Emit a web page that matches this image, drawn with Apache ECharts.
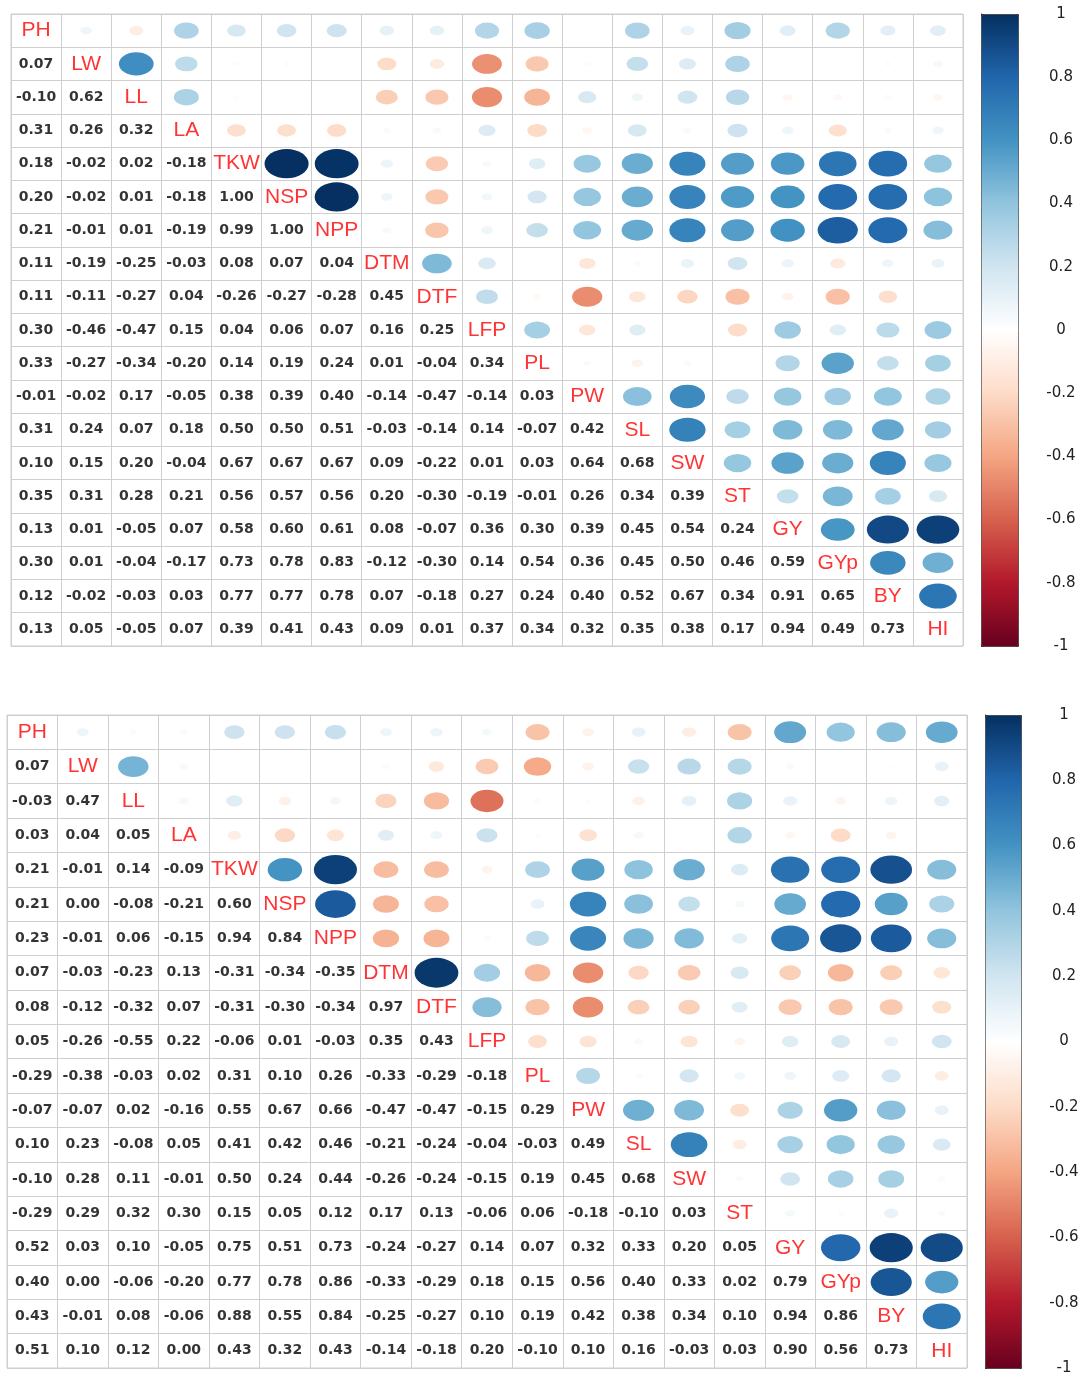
<!DOCTYPE html>
<html lang="en">
<head>
<meta charset="UTF-8">
<title>corrplot</title>
<script src="https://cdn.jsdelivr.net/npm/echarts@6/dist/echarts.min.js"></script>
<style>
  body{margin:0;background:#fff}
  #main{width:1083px;height:1376px}
</style>
</head>
<body>
<div id="main"></div>
<script>
var vars = ['PH','LW','LL','LA','TKW','NSP','NPP','DTM','DTF','LFP','PL','PW','SL','SW','ST','GY','GYp','BY','HI'];

// lower triangle of the first matrix, row by row (columns left of the diagonal)
var lower1 = [
  [],
  [0.07],
  [-0.10, 0.62],
  [0.31, 0.26, 0.32],
  [0.18, -0.02, 0.02, -0.18],
  [0.20, -0.02, 0.01, -0.18, 1.00],
  [0.21, -0.01, 0.01, -0.19, 0.99, 1.00],
  [0.11, -0.19, -0.25, -0.03, 0.08, 0.07, 0.04],
  [0.11, -0.11, -0.27, 0.04, -0.26, -0.27, -0.28, 0.45],
  [0.30, -0.46, -0.47, 0.15, 0.04, 0.06, 0.07, 0.16, 0.25],
  [0.33, -0.27, -0.34, -0.20, 0.14, 0.19, 0.24, 0.01, -0.04, 0.34],
  [-0.01, -0.02, 0.17, -0.05, 0.38, 0.39, 0.40, -0.14, -0.47, -0.14, 0.03],
  [0.31, 0.24, 0.07, 0.18, 0.50, 0.50, 0.51, -0.03, -0.14, 0.14, -0.07, 0.42],
  [0.10, 0.15, 0.20, -0.04, 0.67, 0.67, 0.67, 0.09, -0.22, 0.01, 0.03, 0.64, 0.68],
  [0.35, 0.31, 0.28, 0.21, 0.56, 0.57, 0.56, 0.20, -0.30, -0.19, -0.01, 0.26, 0.34, 0.39],
  [0.13, 0.01, -0.05, 0.07, 0.58, 0.60, 0.61, 0.08, -0.07, 0.36, 0.30, 0.39, 0.45, 0.54, 0.24],
  [0.30, 0.01, -0.04, -0.17, 0.73, 0.78, 0.83, -0.12, -0.30, 0.14, 0.54, 0.36, 0.45, 0.50, 0.46, 0.59],
  [0.12, -0.02, -0.03, 0.03, 0.77, 0.77, 0.78, 0.07, -0.18, 0.27, 0.24, 0.40, 0.52, 0.67, 0.34, 0.91, 0.65],
  [0.13, 0.05, -0.05, 0.07, 0.39, 0.41, 0.43, 0.09, 0.01, 0.37, 0.34, 0.32, 0.35, 0.38, 0.17, 0.94, 0.49, 0.73]
];

// lower triangle of the second matrix
var lower2 = [
  [],
  [0.07],
  [-0.03, 0.47],
  [0.03, 0.04, 0.05],
  [0.21, -0.01, 0.14, -0.09],
  [0.21, 0.00, -0.08, -0.21, 0.60],
  [0.23, -0.01, 0.06, -0.15, 0.94, 0.84],
  [0.07, -0.03, -0.23, 0.13, -0.31, -0.34, -0.35],
  [0.08, -0.12, -0.32, 0.07, -0.31, -0.30, -0.34, 0.97],
  [0.05, -0.26, -0.55, 0.22, -0.06, 0.01, -0.03, 0.35, 0.43],
  [-0.29, -0.38, -0.03, 0.02, 0.31, 0.10, 0.26, -0.33, -0.29, -0.18],
  [-0.07, -0.07, 0.02, -0.16, 0.55, 0.67, 0.66, -0.47, -0.47, -0.15, 0.29],
  [0.10, 0.23, -0.08, 0.05, 0.41, 0.42, 0.46, -0.21, -0.24, -0.04, -0.03, 0.49],
  [-0.10, 0.28, 0.11, -0.01, 0.50, 0.24, 0.44, -0.26, -0.24, -0.15, 0.19, 0.45, 0.68],
  [-0.29, 0.29, 0.32, 0.30, 0.15, 0.05, 0.12, 0.17, 0.13, -0.06, 0.06, -0.18, -0.10, 0.03],
  [0.52, 0.03, 0.10, -0.05, 0.75, 0.51, 0.73, -0.24, -0.27, 0.14, 0.07, 0.32, 0.33, 0.20, 0.05],
  [0.40, 0.00, -0.06, -0.20, 0.77, 0.78, 0.86, -0.33, -0.29, 0.18, 0.15, 0.56, 0.40, 0.33, 0.02, 0.79],
  [0.43, -0.01, 0.08, -0.06, 0.88, 0.55, 0.84, -0.25, -0.27, 0.10, 0.19, 0.42, 0.38, 0.34, 0.10, 0.94, 0.86],
  [0.51, 0.10, 0.12, 0.00, 0.43, 0.32, 0.43, -0.14, -0.18, 0.20, -0.10, 0.10, 0.16, -0.03, 0.03, 0.90, 0.56, 0.73]
];

// colour bar scale
var barMin = -1, barMax = 1, barStep = 0.2;
var rdbu = ['#67001F','#B2182B','#D6604D','#F4A582','#FDDBC7','#FFFFFF','#D1E5F0','#92C5DE','#4393C3','#2166AC','#053061'];

var mychart = echarts.init(document.getElementById('main'));

// split a lower triangle into circles (mirrored up), numbers and the diagonal names
function cells(lower) {
  var circ = [], nums = [], diag = [];
  for (var i = 0; i < vars.length; i++) {
    diag.push([i, i, vars[i]]);
    for (var j = 0; j < i; j++) {
      nums.push([j, i, lower[i][j]]);
      circ.push([i, j, lower[i][j]]);
    }
  }
  return {circ: circ, nums: nums, diag: diag};
}

var boxes = [
  {left: 11, top: 14, width: 952, height: 632, bar: {left: 981, width: 37, margin: 43}},
  {left: 7, top: 715, width: 960, height: 653, bar: {left: 985, width: 36, margin: 43}}
];

var grid = [], xAxis = [], yAxis = [], series = [], visualMap = [];

[lower1, lower2].forEach(function (lower, k) {
  var b = boxes[k];
  var d = cells(lower);
  var cw = b.width / vars.length, ch = b.height / vars.length;
  var gm = grid.length;
  grid.push({left: b.left, top: b.top, width: b.width, height: b.height,
    show: true, borderColor: '#cfcfcf', borderWidth: 1});
  xAxis.push({type: 'category', gridIndex: gm, data: vars, boundaryGap: true,
    axisLine: {show: false}, axisTick: {show: false}, axisLabel: {show: false},
    splitLine: {show: true, lineStyle: {color: '#cfcfcf', width: 1}}});
  yAxis.push({type: 'category', gridIndex: gm, data: vars, inverse: true, boundaryGap: true,
    axisLine: {show: false}, axisTick: {show: false}, axisLabel: {show: false},
    splitLine: {show: true, lineStyle: {color: '#cfcfcf', width: 1}}});

  var si = series.length;
  series.push({
    type: 'scatter', xAxisIndex: gm, yAxisIndex: gm, data: d.circ, silent: true,
    symbol: 'circle',
    symbolSize: function (v) {
      var s = Math.sqrt(Math.abs(v[2]));
      return [cw * 0.88 * s, ch * 0.88 * s];
    },
    itemStyle: {opacity: 1}
  });
  series.push({
    type: 'scatter', xAxisIndex: gm, yAxisIndex: gm, data: d.nums, silent: true,
    symbolSize: 1, itemStyle: {color: 'rgba(0,0,0,0)'},
    label: {show: true, position: 'inside', color: '#000', fontWeight: 'bold',
      fontFamily: 'DejaVu Sans', fontSize: 14,
      formatter: function (p) { return p.value[2].toFixed(2); }}
  });
  series.push({
    type: 'scatter', xAxisIndex: gm, yAxisIndex: gm, data: d.diag, silent: true,
    symbolSize: 1, itemStyle: {color: 'rgba(0,0,0,0)'},
    label: {show: true, position: 'inside', color: '#ff0000',
      fontFamily: 'Liberation Sans', fontSize: 21,
      formatter: function (p) { return p.value[2]; }}
  });

  visualMap.push({
    type: 'continuous', min: barMin, max: barMax, dimension: 2, seriesIndex: [si],
    calculable: false, orient: 'vertical', left: b.bar.left, top: b.top,
    itemWidth: b.bar.width, itemHeight: b.height, padding: 0,
    borderColor: '#333', borderWidth: 1,
    inRange: {color: rdbu}
  });

  // axis carrying the colour bar ticks and labels
  var gi = grid.length;
  grid.push({left: b.bar.left, top: b.top, width: b.bar.width, height: b.height, show: false});
  xAxis.push({type: 'value', gridIndex: gi, show: false});
  yAxis.push({type: 'value', gridIndex: gi, position: 'right', min: barMin, max: barMax, interval: barStep,
    axisLine: {show: true, lineStyle: {color: '#333'}},
    axisTick: {show: true, length: 8, lineStyle: {color: '#444'}},
    splitLine: {show: false},
    axisLabel: {show: true, color: '#222', fontSize: 15, fontFamily: 'DejaVu Sans', align: 'center',
      margin: b.bar.margin,
      formatter: function (v) { return String(Math.round(v * 10) / 10); }}});
});

var option = {
  backgroundColor: '#fff',
  animation: false,
  grid: grid,
  xAxis: xAxis,
  yAxis: yAxis,
  visualMap: visualMap,
  series: series
};
mychart.setOption(option);
</script>
</body>
</html>
